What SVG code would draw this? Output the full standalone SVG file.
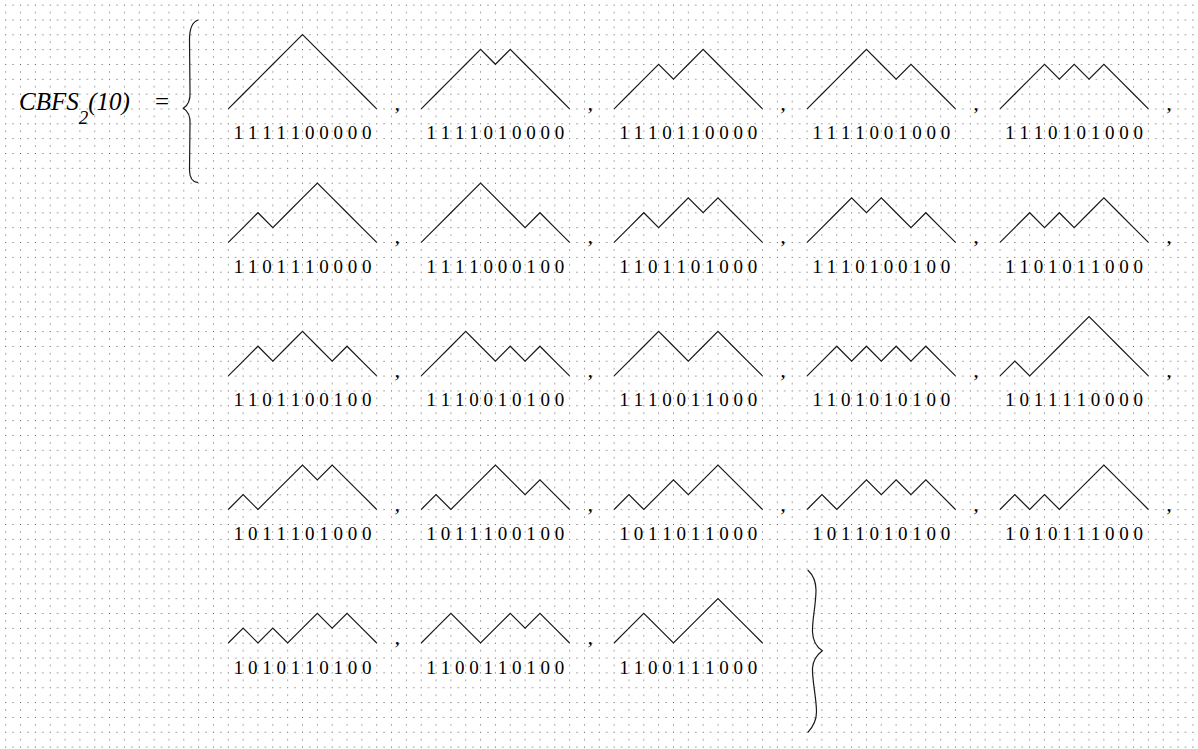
<svg xmlns="http://www.w3.org/2000/svg" width="1198" height="749" viewBox="0 0 1198 749">
<style>
.p{fill:none;stroke:#1a1a1a;stroke-width:1.2;vector-effect:non-scaling-stroke;stroke-linejoin:miter}
.l{font-family:"Liberation Serif","Times New Roman",serif;font-size:19px;text-anchor:middle;fill:#000}
.c{font-family:"Liberation Serif","Times New Roman",serif;font-size:22px;font-style:italic;fill:#000}
.t{font-family:"Liberation Serif","Times New Roman",serif;fill:#000}
.b{fill:none;stroke:#1a1a1a;stroke-width:1.2}
</style>
<defs>
<pattern id="grid" x="5.2" y="4.6" width="14.84" height="14.84" patternUnits="userSpaceOnUse">
<rect x="0" y="0" width="1" height="1" fill="#555"/>
<rect x="7.42" y="0" width="1" height="1" fill="#555"/>
<rect x="0" y="7.42" width="1" height="1" fill="#555"/>
</pattern>
</defs>
<rect width="1198" height="749" fill="#fff"/>
<rect width="1198" height="749" fill="url(#grid)"/>

<g id="title">
<text class="t" x="19" y="110" font-size="25" font-style="italic">CBFS<tspan font-size="19" dy="14">2</tspan><tspan dy="-14">(10)</tspan></text>
<text class="t" x="155" y="110" font-size="25">=</text>
</g>
<g id="brace-open">
<path class="b" d="M198,20 C192,22 189.5,28 189.5,40 L190,92 C190.5,101 187,106 183.3,108.3 C187,110.5 190.5,115 190,124 L189.5,170 C189.5,178 192,182 198,182.7"/>
</g>
<g id="brace-close">
<path class="b" d="M807.7,570 C812,574 816,580 816,590 C816,605 812,620 812.5,632 C813,642 818,648 822.3,650.7 C818,654 813,660 812.5,668 C812,680 816.5,698 816.5,712 C816.5,722 812,728 807.7,732.7"/>
</g>

<g id="connectors"/>

<!-- Row 1 -->
<g id="n1"><path class="p" transform="translate(228.3 108.8) scale(14.84)" d="M0 0l1-1 1-1 1-1 1-1 1-1 1 1 1 1 1 1 1 1 1 1"/><text class="l" x="302.5" y="139.3">1 1 1 1 1 0 0 0 0 0</text><text class="c" x="394.5" y="109.8">,</text></g>
<g id="n2"><path class="p" transform="translate(421.2 108.8) scale(14.84)" d="M0 0l1-1 1-1 1-1 1-1 1 1 1-1 1 1 1 1 1 1 1 1"/><text class="l" x="495.4" y="139.3">1 1 1 1 0 1 0 0 0 0</text><text class="c" x="587.4" y="109.8">,</text></g>
<g id="n3"><path class="p" transform="translate(614.1 108.8) scale(14.84)" d="M0 0l1-1 1-1 1-1 1 1 1-1 1-1 1 1 1 1 1 1 1 1"/><text class="l" x="688.3" y="139.3">1 1 1 0 1 1 0 0 0 0</text><text class="c" x="780.3" y="109.8">,</text></g>
<g id="n4"><path class="p" transform="translate(807.1 108.8) scale(14.84)" d="M0 0l1-1 1-1 1-1 1-1 1 1 1 1 1-1 1 1 1 1 1 1"/><text class="l" x="881.3" y="139.3">1 1 1 1 0 0 1 0 0 0</text><text class="c" x="973.3" y="109.8">,</text></g>
<g id="n5"><path class="p" transform="translate(1000 108.8) scale(14.84)" d="M0 0l1-1 1-1 1-1 1 1 1-1 1 1 1-1 1 1 1 1 1 1"/><text class="l" x="1074.2" y="139.3">1 1 1 0 1 0 1 0 0 0</text><text class="c" x="1166.2" y="109.8">,</text></g>

<!-- Row 2 -->
<g id="n6"><path class="p" transform="translate(228.3 242.4) scale(14.84)" d="M0 0l1-1 1-1 1 1 1-1 1-1 1-1 1 1 1 1 1 1 1 1"/><text class="l" x="302.5" y="272.9">1 1 0 1 1 1 0 0 0 0</text><text class="c" x="394.5" y="243.4">,</text></g>
<g id="n7"><path class="p" transform="translate(421.2 242.4) scale(14.84)" d="M0 0l1-1 1-1 1-1 1-1 1 1 1 1 1 1 1-1 1 1 1 1"/><text class="l" x="495.4" y="272.9">1 1 1 1 0 0 0 1 0 0</text><text class="c" x="587.4" y="243.4">,</text></g>
<g id="n8"><path class="p" transform="translate(614.1 242.4) scale(14.84)" d="M0 0l1-1 1-1 1 1 1-1 1-1 1 1 1-1 1 1 1 1 1 1"/><text class="l" x="688.3" y="272.9">1 1 0 1 1 0 1 0 0 0</text><text class="c" x="780.3" y="243.4">,</text></g>
<g id="n9"><path class="p" transform="translate(807.1 242.4) scale(14.84)" d="M0 0l1-1 1-1 1-1 1 1 1-1 1 1 1 1 1-1 1 1 1 1"/><text class="l" x="881.3" y="272.9">1 1 1 0 1 0 0 1 0 0</text><text class="c" x="973.3" y="243.4">,</text></g>
<g id="n10"><path class="p" transform="translate(1000 242.4) scale(14.84)" d="M0 0l1-1 1-1 1 1 1-1 1 1 1-1 1-1 1 1 1 1 1 1"/><text class="l" x="1074.2" y="272.9">1 1 0 1 0 1 1 0 0 0</text><text class="c" x="1166.2" y="243.4">,</text></g>

<!-- Row 3 -->
<g id="n11"><path class="p" transform="translate(228.3 375.9) scale(14.84)" d="M0 0l1-1 1-1 1 1 1-1 1-1 1 1 1 1 1-1 1 1 1 1"/><text class="l" x="302.5" y="406.4">1 1 0 1 1 0 0 1 0 0</text><text class="c" x="394.5" y="376.9">,</text></g>
<g id="n12"><path class="p" transform="translate(421.2 375.9) scale(14.84)" d="M0 0l1-1 1-1 1-1 1 1 1 1 1-1 1 1 1-1 1 1 1 1"/><text class="l" x="495.4" y="406.4">1 1 1 0 0 1 0 1 0 0</text><text class="c" x="587.4" y="376.9">,</text></g>
<g id="n13"><path class="p" transform="translate(614.1 375.9) scale(14.84)" d="M0 0l1-1 1-1 1-1 1 1 1 1 1-1 1-1 1 1 1 1 1 1"/><text class="l" x="688.3" y="406.4">1 1 1 0 0 1 1 0 0 0</text><text class="c" x="780.3" y="376.9">,</text></g>
<g id="n14"><path class="p" transform="translate(807.1 375.9) scale(14.84)" d="M0 0l1-1 1-1 1 1 1-1 1 1 1-1 1 1 1-1 1 1 1 1"/><text class="l" x="881.3" y="406.4">1 1 0 1 0 1 0 1 0 0</text><text class="c" x="973.3" y="376.9">,</text></g>
<g id="n15"><path class="p" transform="translate(1000 375.9) scale(14.84)" d="M0 0l1-1 1 1 1-1 1-1 1-1 1-1 1 1 1 1 1 1 1 1"/><text class="l" x="1074.2" y="406.4">1 0 1 1 1 1 0 0 0 0</text><text class="c" x="1166.2" y="376.9">,</text></g>

<!-- Row 4 -->
<g id="n16"><path class="p" transform="translate(228.3 509.5) scale(14.84)" d="M0 0l1-1 1 1 1-1 1-1 1-1 1 1 1-1 1 1 1 1 1 1"/><text class="l" x="302.5" y="540">1 0 1 1 1 0 1 0 0 0</text><text class="c" x="394.5" y="510.5">,</text></g>
<g id="n17"><path class="p" transform="translate(421.2 509.5) scale(14.84)" d="M0 0l1-1 1 1 1-1 1-1 1-1 1 1 1 1 1-1 1 1 1 1"/><text class="l" x="495.4" y="540">1 0 1 1 1 0 0 1 0 0</text><text class="c" x="587.4" y="510.5">,</text></g>
<g id="n18"><path class="p" transform="translate(614.1 509.5) scale(14.84)" d="M0 0l1-1 1 1 1-1 1-1 1 1 1-1 1-1 1 1 1 1 1 1"/><text class="l" x="688.3" y="540">1 0 1 1 0 1 1 0 0 0</text><text class="c" x="780.3" y="510.5">,</text></g>
<g id="n19"><path class="p" transform="translate(807.1 509.5) scale(14.84)" d="M0 0l1-1 1 1 1-1 1-1 1 1 1-1 1 1 1-1 1 1 1 1"/><text class="l" x="881.3" y="540">1 0 1 1 0 1 0 1 0 0</text><text class="c" x="973.3" y="510.5">,</text></g>
<g id="n20"><path class="p" transform="translate(1000 509.5) scale(14.84)" d="M0 0l1-1 1 1 1-1 1 1 1-1 1-1 1-1 1 1 1 1 1 1"/><text class="l" x="1074.2" y="540">1 0 1 0 1 1 1 0 0 0</text><text class="c" x="1166.2" y="510.5">,</text></g>

<!-- Row 5 -->
<g id="n21"><path class="p" transform="translate(228.3 643) scale(14.84)" d="M0 0l1-1 1 1 1-1 1 1 1-1 1-1 1 1 1-1 1 1 1 1"/><text class="l" x="302.5" y="673.5">1 0 1 0 1 1 0 1 0 0</text><text class="c" x="394.5" y="644">,</text></g>
<g id="n22"><path class="p" transform="translate(421.2 643) scale(14.84)" d="M0 0l1-1 1-1 1 1 1 1 1-1 1-1 1 1 1-1 1 1 1 1"/><text class="l" x="495.4" y="673.5">1 1 0 0 1 1 0 1 0 0</text><text class="c" x="587.4" y="644">,</text></g>
<g id="n23"><path class="p" transform="translate(614.1 643) scale(14.84)" d="M0 0l1-1 1-1 1 1 1 1 1-1 1-1 1-1 1 1 1 1 1 1"/><text class="l" x="688.3" y="673.5">1 1 0 0 1 1 1 0 0 0</text></g>
</svg>
